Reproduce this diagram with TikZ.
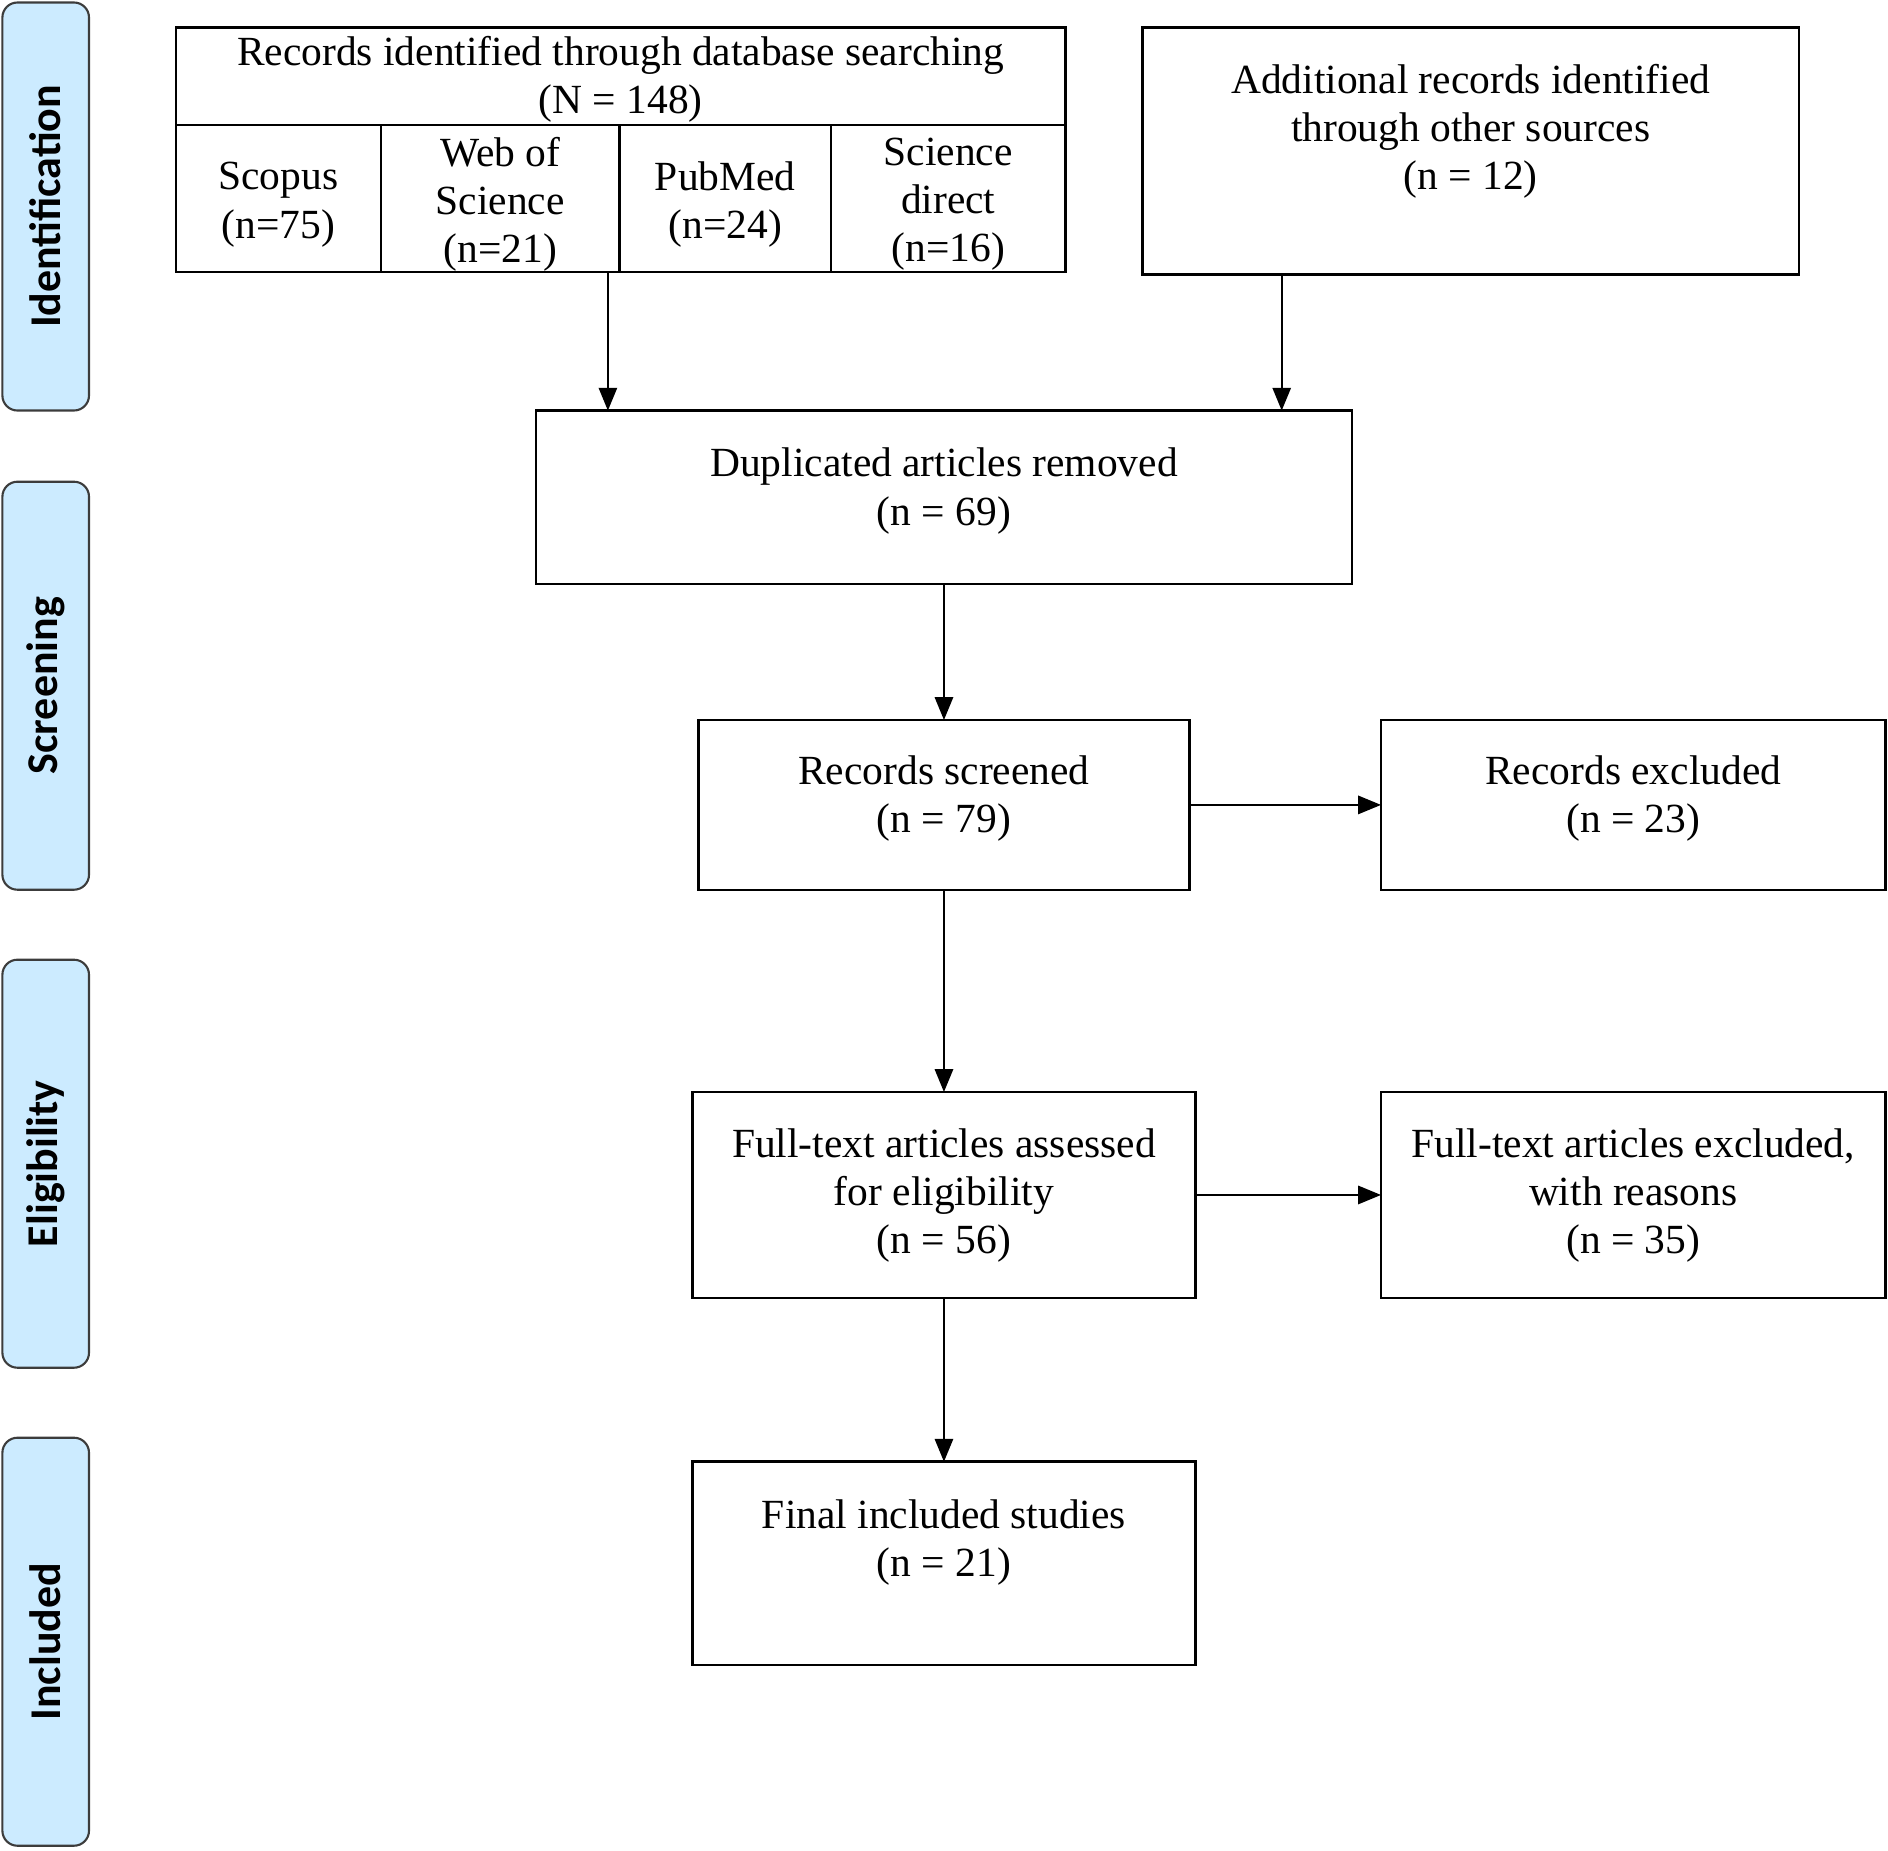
\documentclass[tikz,border=0pt]{standalone}
\usepackage{fontspec}
\setmainfont{Liberation Serif}
\newfontfamily\phasefont{Carlito}
\usepackage{tikz}
\usetikzlibrary{arrows.meta,positioning}
\definecolor{phaseblue}{RGB}{204,235,255}
\definecolor{phaseline}{RGB}{60,60,60}
\tikzset{box/.style={draw, line width=0.7pt, inner sep=0pt, outer sep=0pt},
cell/.style={box, minimum height=1.469cm},
txt/.style={align=center, inner sep=0pt},
%stage labels on the left
phase/.style={draw=phaseline, fill=phaseblue, line width=0.6pt, rounded corners=0.15cm,
  minimum width=4.08cm, minimum height=0.866cm, rotate=90, inner sep=0pt,
  font=\phasefont\bfseries\fontsize{12.5}{14}\selectfont},
flow/.style={-{Triangle[length=6.5pt,width=5.2pt]}, line width=0.6pt}}

\begin{document}
\begin{tikzpicture}[every node/.style={font=\fontsize{11.8}{13.7}\selectfont}]
\useasboundingbox (0,0) rectangle (18.88,-18.50);

\node[phase] (ident) at (0.457,-2.065) {Identification};
\node[phase] (screen) at (0.457,-6.857) {Screening};
\node[phase] (elig) at (0.457,-11.637) {Eligibility};
\node[phase] (incl) at (0.457,-16.417) {Included};

% database block
\node[box, minimum width=8.897cm, minimum height=0.975cm] (db) at (6.2065,-0.7645) {};
\node[txt] (dbt) at ([yshift=-0.03cm]db.center) {Records identified through database searching\\(N = 148)};
\node[cell, minimum width=2.05cm, anchor=north west] (scop) at (db.south west) {};
\node[cell, minimum width=2.388cm, right=0pt of scop] (wos) {};
\node[cell, minimum width=2.113cm, right=0pt of wos] (pubm) {};
\node[cell, minimum width=2.346cm, right=0pt of pubm] (scid) {};
\node[txt] (scopt) at ([yshift=-0.06cm]scop.center) {Scopus\\(n=75)};
\node[txt] (wost) at ([yshift=-0.055cm]wos.center) {Web of\\Science\\(n=21)};
\node[txt] (pubmt) at ([yshift=-0.06cm]pubm.center) {PubMed\\(n=24)};
\node[txt] (scidt) at ([yshift=-0.055cm]scid.center) {Science\\direct\\(n=16)};

\node[box, minimum width=6.562cm, minimum height=2.468cm] (addl) at (14.707,-1.511) {};
\node[txt] (addlt) at ([yshift=0.2cm]addl.center) {Additional records identified\\through other sources\\(n = 12)};

\node[box, minimum width=8.163cm, minimum height=1.733cm] (dup) at (9.4395,-4.9725) {};
\node[txt] (dupt) at ([yshift=0.062cm]dup.center) {Duplicated articles removed\\(n = 69)};

\node[box, minimum width=4.913cm, minimum height=1.698cm] (scr) at (9.4395,-8.049) {};
\node[txt] (scrt) at ([yshift=0.068cm]scr.center) {Records screened\\(n = 79)};

\node[box, minimum width=5.045cm, minimum height=1.698cm] (rexc) at (16.3325,-8.049) {};
\node[txt] (rexct) at ([yshift=0.068cm]rexc.center) {Records excluded\\(n = 23)};

\node[box, minimum width=5.033cm, minimum height=2.059cm] (ass) at (9.4395,-11.9495) {};
\node[txt] (asst) at ([yshift=-0.005cm]ass.center) {Full-text articles assessed\\for eligibility\\(n = 56)};

\node[box, minimum width=5.045cm, minimum height=2.059cm] (fexc) at (16.3325,-11.9495) {};
\node[txt] (fexct) at ([yshift=-0.005cm]fexc.center) {Full-text articles excluded,\\with reasons\\(n = 35)};

\node[box, minimum width=5.033cm, minimum height=2.034cm] (fin) at (9.4395,-15.634) {};
\node[txt] (fint) at ([yshift=0.212cm]fin.center) {Final included studies\\(n = 21)};

% arrows
\coordinate (dbout) at ([xshift=1.077cm]wos.south);
\coordinate (addout) at ([xshift=-1.89cm]addl.south);
\draw[flow] (dbout) -- (dbout |- dup.north);
\draw[flow] (addout) -- (addout |- dup.north);
\draw[flow] (dup.south) -- (scr.north);
\draw[flow] (scr.east) -- (rexc.west);
\draw[flow] (scr.south) -- (ass.north);
\draw[flow] (ass.east) -- (fexc.west);
\draw[flow] (ass.south) -- (fin.north);

\end{tikzpicture}
\end{document}
